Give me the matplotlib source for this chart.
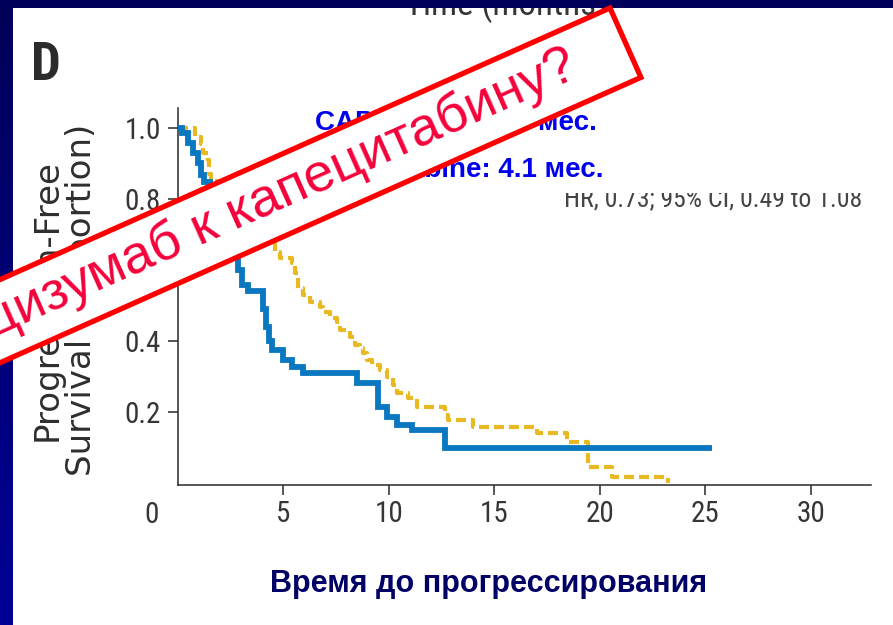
import matplotlib
matplotlib.use("Agg")
import matplotlib.pyplot as plt
import numpy as np
from matplotlib.patches import Rectangle, Polygon
from matplotlib.colors import LinearSegmentedColormap

# progression-free survival step curves: months, proportion still progression-free
CAP_T = [0, 0.19, 0.47, 0.71, 0.95, 1.09, 1.23, 1.5, 1.8, 2.1, 2.4, 2.75, 2.84, 3.03, 3.3,
         4.03, 4.15, 4.3, 4.45, 4.98, 5.40, 5.92, 8.48, 9.48, 9.9, 10.38, 11.09, 12.65, 25.3]
CAP_S = [1.0, 0.986, 0.958, 0.930, 0.901, 0.868, 0.848, 0.80, 0.76, 0.72, 0.69, 0.648, 0.60, 0.558, 0.54,
         0.49, 0.44, 0.40, 0.375, 0.346, 0.327, 0.31, 0.282, 0.214, 0.186, 0.163, 0.149, 0.099, 0.099]
BEV_T = [0, 0.8, 1.1, 1.2, 1.4, 1.45, 1.55, 1.9, 2.3, 2.7, 3.1, 3.5, 3.9, 4.27, 4.6, 4.83, 5.4, 5.55,
         5.69, 5.92, 6.26, 6.73, 6.87, 7.2, 7.54, 7.68, 8.15, 8.39, 8.63, 8.77, 8.96, 9.19, 9.57, 9.9,
         10.19, 10.38, 10.9, 11.33, 12.65, 12.8, 13.98, 17.0, 18.44, 19.43, 20.57, 23.22]
BEV_S = [1.0, 0.975, 0.955, 0.93, 0.91, 0.87, 0.85, 0.82, 0.79, 0.76, 0.74, 0.72, 0.70, 0.676, 0.65, 0.634, 0.62, 0.59,
         0.55, 0.53, 0.51, 0.496, 0.48, 0.465, 0.453, 0.431, 0.41, 0.389, 0.38, 0.366, 0.346, 0.332, 0.318, 0.299,
         0.276, 0.254, 0.239, 0.214, 0.19, 0.177, 0.158, 0.141, 0.115, 0.045, 0.017, 0.0]
XTICKS = [5, 10, 15, 20, 25, 30]
YTICKS = [0.2, 0.4, 0.6, 0.8, 1.0]
YTICKLABELS = ["0.2", "0.4", "0.6", "0.8", "1.0"]

NARROW = ["Roboto Condensed", "Liberation Sans"]
ARIAL = ["Liberation Sans", "DejaVu Sans"]
INK = "#363636"

W, H = 893, 625
fig = plt.figure(figsize=(W / 100, H / 100), dpi=100)
fig.patch.set_facecolor("white")

ax = fig.add_axes([178 / W, 1 - 485 / H, (871 - 178) / W, (485 - 108) / H])
ax.plot(BEV_T, BEV_S, drawstyle="steps-post", color="#E8B923", lw=3.0,
        dashes=(2.4, 1.2), dash_capstyle="butt", zorder=2)
ax.plot(CAP_T, CAP_S, drawstyle="steps-post", color="#0A78C0", lw=4.2,
        solid_capstyle="butt", solid_joinstyle="miter", zorder=3)
ax.set_xlim(0, 32.85)
ax.set_ylim(-0.006, 1.056)
ax.set_xticks(XTICKS)
ax.set_xticklabels([str(v) for v in XTICKS])
ax.set_yticks(YTICKS)
ax.set_yticklabels(YTICKLABELS)
for s in ("top", "right"):
    ax.spines[s].set_visible(False)
for s in ("left", "bottom"):
    ax.spines[s].set_color("#2a2a2a")
    ax.spines[s].set_linewidth(1.1)
ax.tick_params(direction="out", length=7.5, width=1.1, color="#2a2a2a", labelcolor=INK)
ax.tick_params(axis="x", pad=3)
ax.tick_params(axis="y", pad=5)
for lbl in ax.get_xticklabels() + ax.get_yticklabels():
    lbl.set_fontfamily(NARROW)
    lbl.set_fontsize(21)
# shared origin label sits left of the corner
ax.annotate("0", xy=(0, 0), xycoords="data", xytext=(-19, -13), textcoords="offset points",
            ha="center", va="top", fontsize=21, family=NARROW, color=INK)

fig.text(64 / W, 1 - 300 / H, "Progression-Free\nSurvival (proportion)", rotation=90,
         ha="center", va="center", multialignment="center", linespacing=1.05,
         fontsize=24.5, family=["DejaVu Sans"], color="#2e2e2e")
fig.text(31 / W, 1 - 80 / H, "D", ha="left", va="baseline", fontsize=38,
         fontweight="bold", family=NARROW, color="#2b2b2b")
fig.text(405 / W, 1 - 15 / H, "Time (months)", ha="left", va="baseline", fontsize=25,
         family=NARROW, color=INK)
fig.text(489 / W, 1 - 592 / H, "Время до прогрессирования", ha="center", va="baseline",
         fontsize=22, fontweight="bold", family=ARIAL, color="#000066")

# overlay in pixel units: slide frame, captions and the callout box
ov = fig.add_axes([0, 0, 1, 1], zorder=10)
ov.patch.set_alpha(0)
ov.axis("off")

ov.text(862, 206, "HR, 0.73; 95% CI, 0.49 to 1.08", ha="right", va="baseline",
        fontsize=18.5, family=NARROW, color="#444444", zorder=3)
# the caption block above hides the top of the HR line
ov.add_patch(Rectangle((555, 178), 315, 15, facecolor="white", edgecolor="none", zorder=4))

ov.text(456, 130, "CAPE + Bev: 6.7 мес.", ha="center", va="baseline", fontsize=20,
        fontweight="bold", family=ARIAL, color="#0000EE", zorder=4)
ov.text(456, 177, "Capecitabine: 4.1 мес.", ha="center", va="baseline", fontsize=20,
        fontweight="bold", family=ARIAL, color="#0000EE", zorder=4)

# frame of the slide
grad = np.linspace(0, 1, 256).reshape(-1, 1)
cmap = LinearSegmentedColormap.from_list("frame", ["#000058", "#000096"])
ov.imshow(grad, extent=(0, 13, H, 0), cmap=cmap, aspect="auto", zorder=1)
ov.add_patch(Rectangle((0, 0), W, 8, facecolor="#00005C", edgecolor="none", zorder=1))

# rotated callout
ang = np.deg2rad(24)
u = np.array([np.cos(ang), -np.sin(ang)])
n = np.array([np.sin(ang), np.cos(ang)])
tr = np.array([610.0, 8.0])
hgt, length = 76.0, 900.0
corners = [tr, tr + hgt * n, tr + hgt * n - length * u, tr - length * u]
ov.add_patch(Polygon(corners, closed=True, facecolor="white", edgecolor="#FF0000",
                     lw=3.8, joinstyle="miter", zorder=5))
ov.text(580, 76, "Добавлять ли бевацизумаб к капецитабину?", rotation=24,
        rotation_mode="anchor", ha="right", va="baseline", fontsize=39,
        family=ARIAL, color="#F5003A", zorder=6)

ov.set_xlim(0, W)
ov.set_ylim(H, 0)

fig.savefig("out.png", dpi=100)
